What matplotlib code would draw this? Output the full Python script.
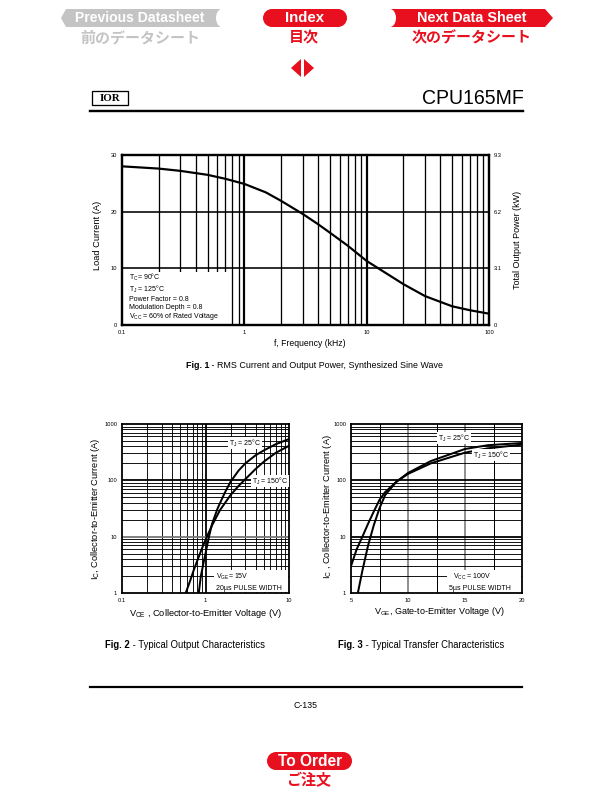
import matplotlib
matplotlib.use('Agg')
import matplotlib.pyplot as plt
from matplotlib.patches import Polygon, Rectangle, Ellipse
from matplotlib.ticker import FixedLocator, NullLocator

plt.rcParams['font.family'] = ['Liberation Sans', 'DejaVu Sans']
plt.rcParams['mathtext.fontset'] = 'custom'
plt.rcParams['mathtext.rm'] = 'Liberation Sans'
plt.rcParams['mathtext.it'] = 'Liberation Sans:italic'
plt.rcParams['mathtext.bf'] = 'Liberation Sans:bold'
plt.rcParams['mathtext.default'] = 'regular'

# ---------------- data ----------------
# Fig. 1 : load current vs frequency
freq_khz = [0.1, 0.2, 0.3, 0.5, 0.7, 1, 1.5, 2, 3, 4, 5, 7, 10, 15, 20, 30, 50, 70, 100]
load_current = [28.0, 27.6, 27.2, 26.5, 25.8, 24.9, 23.4, 21.9, 19.6, 17.8, 16.3, 14.0,
                11.3, 8.9, 7.2, 5.1, 3.3, 2.6, 2.0]
fig1_yticks = [0, 10, 20, 30]
fig1_y2ticks = [0, 3.1, 6.2, 9.3]
fig1_y2ticklabels = ['0', '3.1', '6.2', '9.3']
fig1_xticks = [0.1, 1, 10, 100]
fig1_xticklabels = ['0.1', '1', '10', '100']
fig1_notes = ['T$_C$= 90°C', 'T$_J$ = 125°C', 'Power Factor = 0.8',
              'Modulation Depth = 0.8', 'V$_{CC}$ = 60% of Rated Voltage']

# Fig. 2 : output characteristics
vce_25 = [0.83, 0.88, 0.95, 1.0, 1.1, 1.2, 1.4, 1.7, 2.0, 2.5, 3, 4, 5, 7, 10]
ic_25 = [1, 2, 3.5, 5, 10, 17, 32, 60, 95, 150, 200, 280, 340, 440, 540]
vce_150 = [0.58, 0.65, 0.72, 0.8, 0.9, 1.0, 1.2, 1.5, 2, 2.5, 3, 4, 5, 7, 10]
ic_150 = [1, 1.6, 2.5, 3.8, 6, 8.8, 16, 30, 55, 80, 105, 160, 215, 310, 410]
fig2_xticks = [0.1, 1, 10]
fig2_xticklabels = ['0.1', '1', '10']
ic_ticks = [1, 10, 100, 1000]
ic_ticklabels = ['1', '10', '100', '1000']

# Fig. 3 : transfer characteristics
vge_150 = [5, 5.5, 6, 6.5, 7, 7.5, 8, 9, 10, 12, 15, 17, 20]
ic3_150 = [3, 6, 10, 17, 28, 45, 62, 95, 130, 200, 310, 370, 430]
vge_25 = [5.6, 6, 6.5, 7, 7.5, 8, 9, 10, 12, 15, 17, 20]
ic3_25 = [1, 2.5, 7, 16, 32, 55, 95, 135, 220, 360, 420, 460]
fig3_xticks = [5, 10, 15, 20]

RED = '#e8101e'
GRAY = '#c4c4c4'
JP = ['Noto Sans CJK JP', 'DejaVu Sans']

W, H = 612, 792
fig = plt.figure(figsize=(8.5, 11), dpi=72)


def fx(x):
    return x / W


def fy(y):
    return 1 - y / H


def rect(l, t, r, b):
    return [fx(l), fy(b), fx(r) - fx(l), fy(t) - fy(b)]


def ftext(x, y, s, **kw):
    return fig.text(fx(x), fy(y), s, **kw)


def poly(pts, color, z=1):
    fig.patches.append(Polygon([(fx(a), fy(b)) for a, b in pts], closed=True,
                               transform=fig.transFigure, facecolor=color,
                               edgecolor='none', zorder=z))


def ell(x, y, w, h, color, z=1):
    fig.patches.append(Ellipse((fx(x), fy(y)), w / W, h / H, transform=fig.transFigure,
                               facecolor=color, edgecolor='none', zorder=z))


def pill(l, r, t, b, color):
    h = b - t
    poly([(l + h / 2, t), (r - h / 2, t), (r - h / 2, b), (l + h / 2, b)], color)
    ell(l + h / 2, (t + b) / 2, h, h, color)
    ell(r - h / 2, (t + b) / 2, h, h, color)


def caption(x, y, bold, rest, size):
    t = ftext(x, y, bold, fontsize=size, fontweight='bold', ha='left', va='center')
    fig.axes[0].annotate(rest, xy=(1, 0.5), xycoords=t, fontsize=size,
                         ha='left', va='center', annotation_clip=False)


# ---------------- header navigation ----------------
poly([(61, 18), (66, 9), (220, 9), (220, 27), (66, 27)], GRAY)
ell(222, 18, 12, 18, 'white', 2)
ftext(140, 18, 'Previous Datasheet', color='white', fontsize=14, fontweight='bold',
      ha='center', va='center', zorder=3)
ftext(140, 37, '前のデータシート', color=GRAY, fontsize=15, fontweight='bold',
      ha='center', va='center', family=JP)

pill(263, 347, 9, 27, RED)
ftext(305, 18, 'Index', color='white', fontsize=15, fontweight='bold',
      ha='center', va='center', zorder=3)
ftext(304, 37, '目次', color=RED, fontsize=15, fontweight='bold',
      ha='center', va='center', family=JP)

poly([(390, 9), (545, 9), (553, 18), (545, 27), (390, 27)], RED)
ell(390, 18, 12, 18, 'white', 2)
ftext(472, 18, 'Next Data Sheet', color='white', fontsize=14.4, fontweight='bold',
      ha='center', va='center', zorder=3)
ftext(472, 37, '次のデータシート', color=RED, fontsize=15, fontweight='bold',
      ha='center', va='center', family=JP)

poly([(301, 59), (301, 77), (291, 68)], RED)
poly([(304, 59), (304, 77), (314, 68)], RED)

# ---------------- page header ----------------
fig.patches.append(Rectangle((fx(92), fy(105)), 36 / W, 14 / H, transform=fig.transFigure,
                             facecolor='white', edgecolor='black', linewidth=1.3))
ftext(110, 98.5, 'IOR', fontsize=11, fontweight='bold', ha='center', va='center',
      family=['Liberation Serif', 'DejaVu Serif'])
ftext(524, 99, 'CPU165MF', fontsize=19.5, ha='right', va='center')
fig.add_artist(plt.Line2D([fx(90), fx(523)], [fy(111), fy(111)], color='black', lw=2.4,
                          transform=fig.transFigure))

# ---------------- Fig. 1 ----------------
ax1 = fig.add_axes(rect(122, 155, 489, 325))
ax1.set_xscale('log')
ax1.set_xlim(0.1, 100)
ax1.set_ylim(0, 30)
for d in [0.1, 1, 10]:
    for k in range(2, 10):
        ax1.axvline(k * d, color='black', lw=1.3, zorder=1)
for v in [1, 10]:
    ax1.axvline(v, color='black', lw=2.2, zorder=1)
for v in [10, 20]:
    ax1.axhline(v, color='black', lw=1.6, zorder=1)
ax1.add_patch(Rectangle((0, 0), 0.2916, 0.312, transform=ax1.transAxes,
                        facecolor='white', edgecolor='none', zorder=2))
ax1.plot(freq_khz, load_current, color='black', lw=2.2, zorder=3)
ax1.text(fx(129), fy(272), '\n'.join(fig1_notes), transform=fig.transFigure, fontsize=7.0,
         va='top', ha='left', linespacing=1.12, zorder=4)
ax1.xaxis.set_major_locator(FixedLocator(fig1_xticks))
ax1.set_xticklabels(fig1_xticklabels)
ax1.xaxis.set_minor_locator(NullLocator())
ax1.set_yticks(fig1_yticks)
ax1.tick_params(length=0, labelsize=5.8, pad=5)
for sp in ax1.spines.values():
    sp.set_linewidth(2.2)
ax1b = ax1.twinx()
ax1b.set_ylim(0, 9.3)
ax1b.set_yticks(fig1_y2ticks)
ax1b.set_yticklabels(fig1_y2ticklabels)
ax1b.tick_params(length=0, labelsize=5.8, pad=5)
for sp in ax1b.spines.values():
    sp.set_linewidth(2.2)
ftext(98, 235, 'Load Current (A)', rotation=90, fontsize=9.3, ha='center', va='center')
ftext(518, 240, 'Total Output Power (kW)', rotation=90, fontsize=9.0, ha='center', va='center')
ftext(310, 344, 'f, Frequency (kHz)', fontsize=8.6, ha='center', va='center')
caption(186, 365, 'Fig. 1', ' - RMS Current and Output Power, Synthesized Sine Wave', 8.9)

# ---------------- Fig. 2 ----------------
ax2 = fig.add_axes(rect(122, 424, 289, 593))
ax2.set_xscale('log')
ax2.set_yscale('log')
ax2.set_xlim(0.1, 10)
ax2.set_ylim(1, 1000)
for d in [0.1, 1]:
    for k in range(2, 10):
        ax2.axvline(k * d, color='black', lw=0.9, zorder=1)
for d in [1, 10, 100]:
    for k in range(2, 10):
        ax2.axhline(k * d, color='black', lw=0.9, zorder=1)
ax2.axvline(1, color='black', lw=1.8, zorder=1)
ax2.axhline(100, color='black', lw=1.8, zorder=1)
ax2.axhline(10, color='#777777', lw=1.8, zorder=1)
ax2.plot(vce_25, ic_25, color='black', lw=2.0, zorder=3)
ax2.plot(vce_150, ic_150, color='black', lw=2.0, zorder=3)
ax2.xaxis.set_major_locator(FixedLocator(fig2_xticks))
ax2.set_xticklabels(fig2_xticklabels)
ax2.xaxis.set_minor_locator(NullLocator())
ax2.yaxis.set_major_locator(FixedLocator(ic_ticks))
ax2.set_yticklabels(ic_ticklabels)
ax2.yaxis.set_minor_locator(NullLocator())
ax2.tick_params(length=0, labelsize=5.8, pad=5)
for sp in ax2.spines.values():
    sp.set_linewidth(1.8)
wb = dict(facecolor='white', edgecolor='none', pad=0.6)
ax2.text(fx(229), fy(443), 'T$_J$ = 25°C', transform=fig.transFigure, fontsize=7,
         va='center', ha='left', bbox=wb, zorder=4)
ax2.text(fx(252), fy(481), 'T$_J$ = 150°C', transform=fig.transFigure, fontsize=7,
         va='center', ha='left', bbox=wb, zorder=4)
ax2.add_patch(Rectangle((fx(214), fy(592)), 74 / W, 22 / H, transform=fig.transFigure,
                        facecolor='white', edgecolor='none', zorder=2))
ax2.text(fx(216), fy(577), 'V$_{GE}$= 15V', transform=fig.transFigure, fontsize=7,
         va='center', ha='left', zorder=4)
ax2.text(fx(216), fy(588), '20µs PULSE WIDTH', transform=fig.transFigure, fontsize=7,
         va='center', ha='left', zorder=4)
ftext(96, 509, 'I$_C$, Collector-to-Emitter Current (A)', rotation=90, fontsize=9.3,
      ha='center', va='center')
ftext(206, 613, 'V$_{CE}$ , Collector-to-Emitter Voltage (V)', fontsize=9.3,
      ha='center', va='center')
caption(105, 645, 'Fig. 2', ' - Typical Output Characteristics', 9.5)

# ---------------- Fig. 3 ----------------
ax3 = fig.add_axes(rect(351, 424, 522, 593))
ax3.set_yscale('log')
ax3.set_xlim(5, 20)
ax3.set_ylim(1, 1000)
for v in [7.5, 12.5, 17.5]:
    ax3.axvline(v, color='black', lw=1.0, zorder=1)
for v in [10, 15]:
    ax3.axvline(v, color='#777777', lw=1.6, zorder=1)
for d in [1, 10, 100]:
    for k in range(2, 10):
        ax3.axhline(k * d, color='black', lw=0.9, zorder=1)
ax3.axhline(10, color='black', lw=1.8, zorder=1)
ax3.axhline(100, color='black', lw=1.8, zorder=1)
ax3.plot(vge_150, ic3_150, color='black', lw=2.0, zorder=3)
ax3.plot(vge_25, ic3_25, color='black', lw=2.0, zorder=3)
ax3.set_xticks(fig3_xticks)
ax3.yaxis.set_major_locator(FixedLocator(ic_ticks))
ax3.set_yticklabels(ic_ticklabels)
ax3.yaxis.set_minor_locator(NullLocator())
ax3.tick_params(length=0, labelsize=5.8, pad=5)
for sp in ax3.spines.values():
    sp.set_linewidth(1.8)
ax3.text(fx(438), fy(438), 'T$_J$ = 25°C', transform=fig.transFigure, fontsize=7,
         va='center', ha='left', bbox=wb, zorder=4)
ax3.text(fx(473), fy(455), 'T$_J$ = 150°C', transform=fig.transFigure, fontsize=7,
         va='center', ha='left', bbox=wb, zorder=4)
ax3.add_patch(Rectangle((fx(447), fy(592)), 74 / W, 22 / H, transform=fig.transFigure,
                        facecolor='white', edgecolor='none', zorder=2))
ax3.text(fx(453), fy(577), 'V$_{CC}$ = 100V', transform=fig.transFigure, fontsize=7,
         va='center', ha='left', zorder=4)
ax3.text(fx(449), fy(588), '5µs PULSE WIDTH', transform=fig.transFigure, fontsize=7,
         va='center', ha='left', zorder=4)
ftext(327, 507, 'I$_C$ , Collector-to-Emitter Current (A)', rotation=90, fontsize=9.3,
      ha='center', va='center')
ftext(439, 612, 'V$_{GE}$, Gate-to-Emitter Voltage (V)', fontsize=9,
      ha='center', va='center')
caption(338, 645, 'Fig. 3', ' - Typical Transfer Characteristics', 9.5)

# ---------------- footer ----------------
fig.add_artist(plt.Line2D([fx(90), fx(522)], [fy(687), fy(687)], color='black', lw=2.2,
                          transform=fig.transFigure))
ftext(306, 705, 'C-135', fontsize=8.8, ha='center', va='center')
pill(267, 352, 752, 770, RED)
ftext(310, 761, 'To Order', color='white', fontsize=15.5, fontweight='bold',
      ha='center', va='center', zorder=3)
ftext(309, 780, 'ご注文', color=RED, fontsize=15, fontweight='bold',
      ha='center', va='center', family=JP)

fig.savefig('out.png', dpi=72)
